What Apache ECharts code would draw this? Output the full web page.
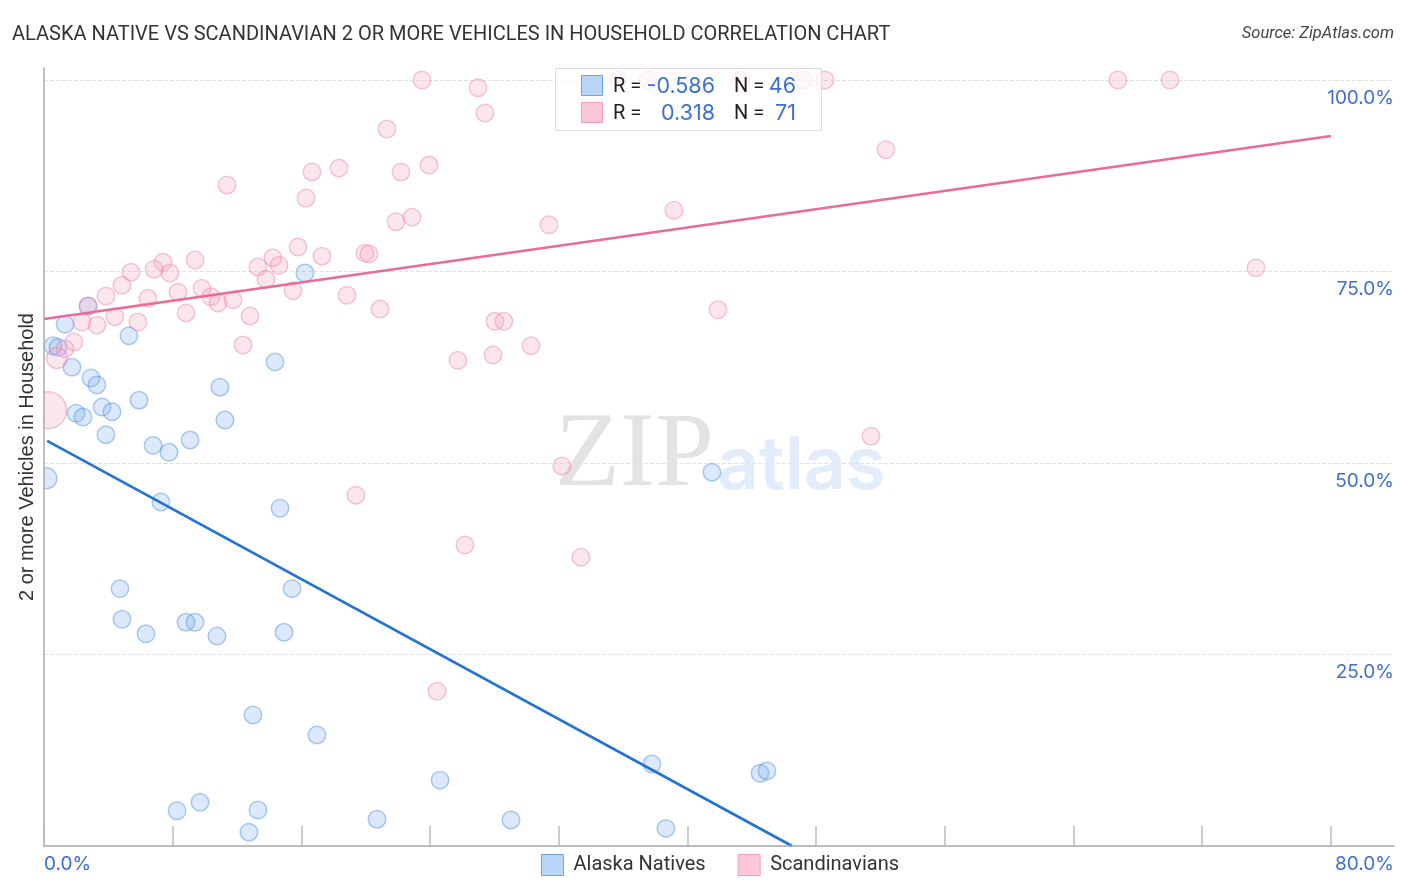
<!DOCTYPE html>
<html>
<head>
<meta charset="utf-8">
<style>
  html, body { margin: 0; padding: 0; background: #fff; }
  #chart { width: 1406px; height: 892px; }
</style>
<script src="https://cdn.jsdelivr.net/npm/echarts@6/dist/echarts.min.js"></script>
</head>
<body>
<div id="chart"></div>
<script>
const alaskaX = [0.15, 0.56, 0.87, 1.31, 2.74, 1.74, 2.92, 3.29, 5.28, 1.99, 2.42, 3.61, 4.23, 3.85, 5.91, 6.78,
  7.77, 9.08, 10.94, 11.25, 14.36, 16.22, 7.27, 14.67, 41.52, 4.72, 15.42, 4.85, 6.34, 8.83, 9.39, 10.75,
  14.92, 12.99, 16.97, 37.79, 44.51, 44.94, 24.62, 8.27, 9.7, 13.3, 12.74, 20.7, 29.03, 38.66]
const alaskaY = [48, 65.3, 65.1, 68.1, 70.5, 62.5, 61.1, 60.2, 66.6, 56.5, 56, 57.3, 56.7, 53.7, 58.2, 52.3,
  51.4, 53, 59.9, 55.6, 63.2, 74.8, 44.9, 44.1, 48.8, 33.6, 33.6, 29.6, 27.7, 29.2, 29.2, 27.4,
  27.9, 17.1, 14.5, 10.7, 9.5, 9.8, 8.6, 4.6, 5.7, 4.7, 1.8, 3.5, 3.4, 2.3]

const scandX = [11.38, 16.66, 18.34, 16.29, 15.79, 17.28, 14.23, 14.61, 13.3, 13.8, 15.48, 18.83, 9.39, 7.4, 6.84, 7.83,
  5.41, 4.85, 3.85, 6.46, 8.33, 9.82, 10.38, 10.82, 11.75, 8.83, 12.81, 12.37, 5.84, 4.41, 3.29, 2.36,
  2.74, 1.86, 1.31, 0.81, 0.25, 23.5, 26.98, 35.68, 37.55, 43.33, 47.18, 48.55, 66.76, 69.99, 27.41, 21.32,
  23.93, 22.19, 52.34, 22.88, 21.88, 39.16, 31.39, 19.95, 20.2, 75.34, 41.9, 20.89, 28.03, 28.59, 30.27, 27.91,
  25.73, 51.41, 32.2, 19.39, 26.17, 33.38, 24.43]
const scandY = [86.3, 88, 88.5, 84.6, 78.2, 77, 76.8, 75.8, 75.6, 74, 72.5, 71.9, 76.5, 76.2, 75.3, 74.8,
  74.9, 73.2, 71.8, 71.5, 72.3, 72.8, 71.7, 70.9, 71.3, 69.6, 69.2, 65.4, 68.4, 69.1, 68, 68.4,
  70.5, 65.8, 64.9, 63.7, 56.9, 100, 99, 100, 100, 100, 100, 100, 100, 100, 95.7, 93.6,
  88.9, 88, 90.9, 82.1, 81.5, 83, 81.1, 77.4, 77.3, 75.5, 70, 70.1, 68.5, 68.5, 65.3, 64.1,
  63.4, 53.5, 49.6, 45.8, 39.3, 37.7, 20.2]

const alaskaTrendX = [0.2, 46.5]
const alaskaTrendY = [52.9, 0]
const scandTrendX = [0, 80]
const scandTrendY = [68.8, 92.7]

const xTicks = [0, 8, 16, 24, 32, 40, 48, 56, 64, 72, 80]
const yTicks = [0, 25, 50, 75, 100]
const yLabels = [25, 50, 75, 100]

const BLUE_TEXT = '#3b6fd4'
const DARK = '#222'
const zip = (xs, ys) => xs.map((x, i) => [x, ys[i]])

// a few points hugging the y axis are drawn larger than the others
const bigAlaska = { 0: 21 }
const bigScand = { 35: 21, 36: 37 }

const chart = echarts.init(document.getElementById('chart'))

const legendRow = (top, r, n, fill, stroke) => [
  { type: 'rect', z: 11, shape: { x: 581.5, y: top, width: 21, height: 20 }, style: { fill, stroke, lineWidth: 1 } },
  { type: 'text', z: 11, style: { x: 613, y: top + 11, text: 'R =', fill: DARK, font: '20px Roboto', textVerticalAlign: 'middle' } },
  { type: 'text', z: 11, style: { x: 715, y: top + 11, text: r, fill: BLUE_TEXT, font: '21.5px Inter', textAlign: 'right', textVerticalAlign: 'middle' } },
  { type: 'text', z: 11, style: { x: 734, y: top + 11, text: 'N =', fill: DARK, font: '20px Roboto', textVerticalAlign: 'middle' } },
  { type: 'text', z: 11, style: { x: 796, y: top + 11, text: n, fill: BLUE_TEXT, font: '21.5px Inter', textAlign: 'right', textVerticalAlign: 'middle' } }
]

const option = {
  animation: false,
  backgroundColor: '#fff',
  textStyle: { fontFamily: 'Inter' },
  title: [
    { text: 'ALASKA NATIVE VS SCANDINAVIAN 2 OR MORE VEHICLES IN HOUSEHOLD CORRELATION CHART', left: 7, top: 19.5,
      textStyle: { fontFamily: 'Roboto', fontSize: 20, fontWeight: 'normal', color: '#333' } },
    { text: 'Source: ZipAtlas.com', right: 7, top: 20,
      textStyle: { fontFamily: 'Roboto', fontSize: 16.5, fontWeight: 'normal', fontStyle: 'italic', color: '#444' } }
  ],
  grid: { left: 44, right: 12, top: 68, bottom: 46 },
  legend: {
    left: 536, top: 849, itemWidth: 22, itemHeight: 21, itemGap: 32, icon: 'rect',
    textStyle: { fontFamily: 'Roboto', fontSize: 20, color: '#333', padding: [0, 0, 0, 5] },
    data: [
      { name: 'Alaska Natives', itemStyle: { color: '#b9d5f7', borderColor: '#6ea3e3', borderWidth: 1, opacity: 1 } },
      { name: 'Scandinavians', itemStyle: { color: '#fcc8d9', borderColor: '#f29dba', borderWidth: 1, opacity: 1 } }
    ]
  },
  xAxis: {
    type: 'value', min: 0, max: 83.92, splitLine: { show: false }, z: 6,
    axisLine: { lineStyle: { color: '#aaa', width: 1.5 } },
    axisTick: { inside: true, length: 20, customValues: xTicks, lineStyle: { color: '#bbb', width: 1.5 } },
    axisLabel: {
      customValues: [0, 83.92], margin: 9, color: BLUE_TEXT, fontSize: 19,
      alignMinLabel: 'left', alignMaxLabel: 'right',
      formatter: v => (v === 0 ? '0.0%' : '80.0%')
    }
  },
  yAxis: [
    {
      type: 'value', min: 0, max: 101.57, position: 'left', z: 6,
      name: '2 or more Vehicles in Household', nameLocation: 'middle', nameGap: 7, nameRotate: 90,
      nameTextStyle: { fontFamily: 'Liberation Sans', fontSize: 20, color: '#333' },
      axisLine: { show: true, lineStyle: { color: '#aaa', width: 1.5 } },
      axisTick: { show: false, customValues: yTicks },
      axisLabel: { show: false },
      splitLine: { show: false }
    },
    {
      type: 'value', min: 0, max: 101.57, position: 'right',
      axisLine: { show: false },
      axisTick: { show: false, customValues: yTicks },
      splitLine: { show: true, lineStyle: { color: '#e2e2e2', type: 'dashed', width: 1 } },
      axisLabel: {
        inside: true, margin: 0, customValues: yLabels, color: BLUE_TEXT, fontSize: 19, align: 'right',
        verticalAlign: 'top', lineHeight: 36,
        formatter: v => v.toFixed(1) + '%'
      }
    }
  ],
  graphic: [
    { type: 'text', z: 0, silent: true, style: { x: 555, y: 510, text: 'ZIP', fill: '#e3e3e3', font: '106px "Liberation Serif"', textVerticalAlign: 'bottom' } },
    { type: 'text', z: 0, silent: true, style: { x: 717, y: 504, text: 'atlas', fill: '#e3ecfa', font: '600 73px Inter', textVerticalAlign: 'bottom' } },
    // marks that cross the y axis get cut off at it
    { type: 'rect', z: 5, silent: true, shape: { x: 0, y: 60, width: 43.5, height: 790 }, style: { fill: '#fff' } },
    { type: 'rect', z: 10, shape: { x: 555.5, y: 68.5, width: 266, height: 62 }, style: { fill: 'rgba(255,255,255,0.72)', stroke: '#ddd', lineWidth: 1 } },
    ...legendRow(75.5, '-0.586', '46', '#b9d5f7', '#6ea3e3'),
    ...legendRow(102.5, '0.318', '71', '#fcc8d9', '#f29dba')
  ],
  series: [
    {
      name: 'Alaska Natives', type: 'scatter', z: 3,
      symbolSize: (val, params) => bigAlaska[params.dataIndex] || 17.5,
      data: zip(alaskaX, alaskaY),
      itemStyle: { color: 'rgba(120,170,235,0.33)', borderColor: 'rgba(70,140,230,0.55)', borderWidth: 1.5 }
    },
    {
      name: 'Scandinavians', type: 'scatter', z: 3,
      symbolSize: (val, params) => bigScand[params.dataIndex] || 17.5,
      data: zip(scandX, scandY),
      itemStyle: { color: 'rgba(245,160,190,0.33)', borderColor: 'rgba(235,130,165,0.55)', borderWidth: 1.5 }
    },
    {
      type: 'line', symbol: 'none', z: 4, silent: true,
      data: zip(alaskaTrendX, alaskaTrendY),
      lineStyle: { color: '#2272d8', width: 2.6 }
    },
    {
      type: 'line', symbol: 'none', z: 4, silent: true,
      data: zip(scandTrendX, scandTrendY),
      lineStyle: { color: '#ec6a9a', width: 2.6 }
    }
  ]
}
chart.setOption(option)
</script>
</body>
</html>
